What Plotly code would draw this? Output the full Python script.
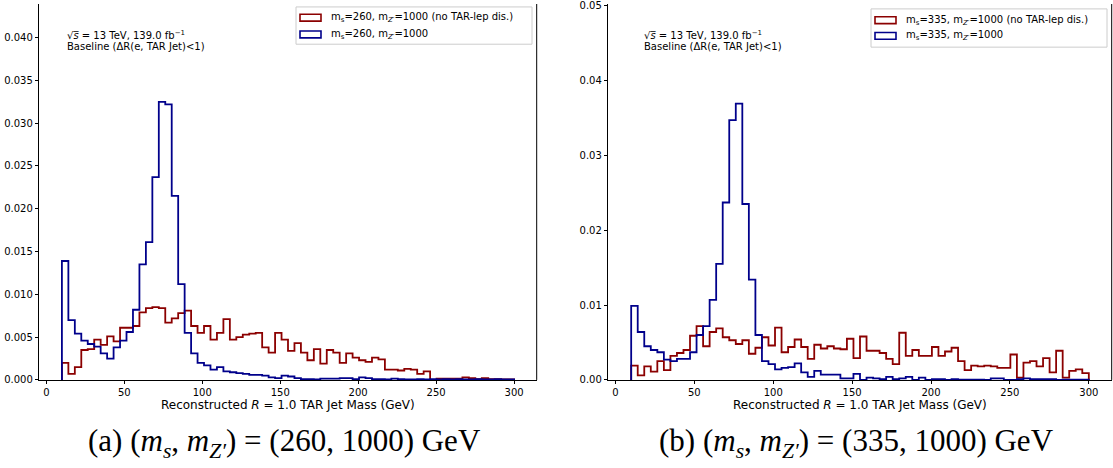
import numpy as np
import plotly.graph_objects as go

# ---------------- data ----------------
BIN_LOW, BIN_HIGH, N_BINS = 10.0, 300.0, 70
edges = np.linspace(BIN_LOW, BIN_HIGH, N_BINS + 1)

# panel (a): m_s = 260, m_Z' = 1000
a_red = [0.0020, 0.0007, 0.0015, 0.0035, 0.0036, 0.0047, 0.0041, 0.0051, 0.0045, 0.0061,
         0.0061, 0.0063, 0.0079, 0.0084, 0.0085, 0.0084, 0.0067, 0.0072, 0.0078, 0.0081,
         0.0063, 0.0055, 0.0063, 0.0047, 0.0055, 0.0071, 0.0047, 0.0050, 0.0053, 0.0054,
         0.0055, 0.0038, 0.0032, 0.0055, 0.0047, 0.0034, 0.0043, 0.0032, 0.0023, 0.0036,
         0.0019, 0.0035, 0.0032, 0.0020, 0.0031, 0.0026, 0.0023, 0.0021, 0.0026, 0.0024,
         0.0012, 0.0012, 0.0011, 0.0013, 0.0012, 0.0007, 0.0010, 0.0000, 0.00015, 0.00015,
         0.00015, 0.00015, 0.0003, 0.0002, 0.0001, 0.0002, 0.0001, 0.0001, 0.00005, 0.00005]
a_blue = [0.0139, 0.0070, 0.0054, 0.0046, 0.0042, 0.0039, 0.0031, 0.0025, 0.0038, 0.0046,
          0.0056, 0.0082, 0.0135, 0.0161, 0.0237, 0.0325, 0.0322, 0.0215, 0.0112, 0.0055,
          0.0031, 0.0020, 0.0017, 0.0012, 0.0015, 0.0010, 0.0009, 0.0008, 0.0007, 0.0006,
          0.0006, 0.0005, 0.0003, 0.0002, 0.0005, 0.0004, 0.0002, 0.0001, 0.0001, 0.00005,
          0.00015, 0.00015, 0.00015, 0.0002, 0.0002, 0.0001, 0.0003, 0.0002, 0.0001, 0.0001,
          0.00005, 0.00015, 0.0001, 0.00005, 0.00005, 0.0001, 0.00005, 0.0001, 0.00005, 0.0001,
          0.00005, 0.0001, 0.00005, 0.00005, 0.0001, 0.00005, 0.00005, 0.0001, 0.00005, 0.00005]

# panel (b): m_s = 335, m_Z' = 1000
b_red = [0.0019, 0.0006, 0.0018, 0.0011, 0.0025, 0.0013, 0.0032, 0.0036, 0.0040, 0.0059,
         0.0072, 0.0045, 0.0064, 0.0069, 0.0057, 0.0053, 0.0048, 0.0053, 0.0035, 0.0043,
         0.0057, 0.0046, 0.0070, 0.0037, 0.0044, 0.0054, 0.0044, 0.0028, 0.0047, 0.0042,
         0.0045, 0.0042, 0.0041, 0.0055, 0.0029, 0.0058, 0.0039, 0.0039, 0.0036, 0.0028,
         0.0021, 0.0063, 0.0032, 0.0040, 0.0032, 0.0032, 0.0044, 0.0032, 0.0038, 0.0043,
         0.0025, 0.0013, 0.0019, 0.0018, 0.0019, 0.0018, 0.0016, 0.0016, 0.0034, 0.0003,
         0.0023, 0.0025, 0.0018, 0.0029, 0.0010, 0.0039, 0.0003, 0.0012, 0.0014, 0.0009]
b_blue = [0.0099, 0.0064, 0.0045, 0.0040, 0.0037, 0.0027, 0.0025, 0.0028, 0.0028, 0.0037,
          0.0060, 0.0072, 0.0107, 0.0155, 0.0237, 0.0347, 0.0369, 0.0235, 0.0134, 0.0060,
          0.0025, 0.0021, 0.0014, 0.0016, 0.0017, 0.0022, 0.0010, 0.0004, 0.0012, 0.0007,
          0.0007, 0.0007, 0.0002, 0.0002, 0.0008, 0.0000, 0.0003, 0.0002, 0.0001, 0.0004,
          0.0001, 0.0002, 0.0004, 0.0000, 0.0003, 0.0000, 0.0001, 0.0001, 0.0000, 0.0001,
          0.00005, 0.00005, 0.00005, 0.00005, 0.0000, 0.0002, 0.0002, 0.0000, 0.0000, 0.0001,
          0.0002, 0.0001, 0.0001, 0.0001, 0.0001, 0.0000, 0.00005, 0.00005, 0.00005, 0.00005]

x_ticks = [0, 50, 100, 150, 200, 250, 300]
a_yticks = [0.000, 0.005, 0.010, 0.015, 0.020, 0.025, 0.030, 0.035, 0.040]
b_yticks = [0.00, 0.01, 0.02, 0.03, 0.04, 0.05]

a_labels = ["m<sub>s</sub>=260, m<sub><i>Z′</i></sub>=1000 (no TAR-lep dis.)",
            "m<sub>s</sub>=260, m<sub><i>Z′</i></sub>=1000"]
b_labels = ["m<sub>s</sub>=335, m<sub><i>Z′</i></sub>=1000 (no TAR-lep dis.)",
            "m<sub>s</sub>=335, m<sub><i>Z′</i></sub>=1000"]
captions = ["(a) (<i>m<sub>s</sub></i>, <i>m<sub>Z′</sub></i>) = (260, 1000) GeV",
            "(b) (<i>m<sub>s</sub></i>, <i>m<sub>Z′</sub></i>) = (335, 1000) GeV"]
x_title = "Reconstructed <i>R</i> = 1.0 TAR Jet Mass (GeV)"
info1 = "√<i>s</i>\u0305 = 13 TeV, 139.0 fb<sup>−1</sup>"
info2 = "Baseline (ΔR(e, TAR Jet)<1)"

RED = "#8b0000"
BLUE = "#00008b"

# ---------------- layout geometry ----------------
W, H = 1113, 468
def px(x):
    return x / W
def py(y):
    return 1 - y / H

AX_BOTTOM = 383.3
panels = [
    dict(xl=39.3, xr=536.7, ymax=0.04393, yt=a_yticks, yfmt=".3f", red=a_red, blue=a_blue,
         labels=a_labels, cap=captions[0], capx=284,
         leg=dict(x0=296, x1=532, y0=3, y1=41, rows=(14, 31), px0=300, px1=321, tx=329)),
    dict(xl=608.3, xr=1111.7, ymax=0.05022, yt=b_yticks, yfmt=".2f", red=b_red, blue=b_blue,
         labels=b_labels, cap=captions[1], capx=856,
         leg=dict(x0=871, x1=1107, y0=5, y1=44, rows=(16.5, 32.5), px0=875, px1=896, tx=904)),
]

def step_xy(vals):
    xs = [edges[0]] + list(edges)
    ys = [0.0] + list(vals) + [0.0]
    return xs, ys

fig = go.Figure()
shapes = []
annotations = []
FONT = "DejaVu Sans"

for i, p in enumerate(panels):
    xa = "x" if i == 0 else "x2"
    ya = "y" if i == 0 else "y2"
    for vals, col in ((p["red"], RED), (p["blue"], BLUE)):
        xs, ys = step_xy(vals)
        fig.add_trace(go.Scatter(x=xs, y=ys, mode="lines", line=dict(color=col, width=1.8, shape="hv"),
                                 xaxis=xa, yaxis=ya, showlegend=False, hoverinfo="skip"))
    axis_common = dict(showline=True, linecolor="black", linewidth=1, ticks="outside", ticklen=3.5,
                       tickwidth=1, tickcolor="black", showgrid=False, zeroline=False,
                       ticklabeloverflow="allow",
                       tickfont=dict(family=FONT, size=10, color="black"))
    xkey = "xaxis" if i == 0 else "xaxis2"
    ykey = "yaxis" if i == 0 else "yaxis2"
    fig.update_layout(**{
        xkey: dict(domain=[px(p["xl"]), px(p["xr"])], range=[-4.5, 314.5], tickvals=x_ticks,
                   anchor=ya, **axis_common),
        ykey: dict(domain=[py(AX_BOTTOM), 1.0], range=[0, p["ymax"]], tickvals=p["yt"],
                   tickformat=p["yfmt"], anchor=xa, **axis_common),
    })
    # right spine
    shapes.append(dict(type="line", xref="paper", yref="paper", x0=px(p["xr"]), x1=px(p["xr"]),
                       y0=py(AX_BOTTOM), y1=1.0, line=dict(color="black", width=1)))
    # legend
    L = p["leg"]
    shapes.append(dict(type="rect", xref="paper", yref="paper", x0=px(L["x0"]), x1=px(L["x1"]),
                       y0=py(L["y1"]), y1=py(L["y0"]), line=dict(color="#cccccc", width=1),
                       fillcolor="rgba(255,255,255,0.8)", layer="above"))
    for row, col, lab in zip(L["rows"], (RED, BLUE), p["labels"]):
        shapes.append(dict(type="rect", xref="paper", yref="paper", x0=px(L["px0"]), x1=px(L["px1"]),
                           y0=py(row + 3.5), y1=py(row - 3.5), line=dict(color=col, width=1.6),
                           fillcolor="rgba(0,0,0,0)", layer="above"))
        annotations.append(dict(xref="paper", yref="paper", x=px(L["tx"]), y=py(row), text=lab,
                                showarrow=False, xanchor="left", yanchor="middle",
                                font=dict(family=FONT, size=10, color="black")))
    # info text
    tx = 64.5 if i == 0 else 641.7
    annotations.append(dict(xref="paper", yref="paper", x=px(tx), y=py(31.5), text=info1,
                            showarrow=False, xanchor="left", yanchor="middle",
                            font=dict(family=FONT, size=10, color="black")))
    annotations.append(dict(xref="paper", yref="paper", x=px(tx), y=py(43.5), text=info2,
                            showarrow=False, xanchor="left", yanchor="middle",
                            font=dict(family=FONT, size=10, color="black")))
    # x title
    cx = (p["xl"] + p["xr"]) / 2
    annotations.append(dict(xref="paper", yref="paper", x=px(cx), y=py(409), text=x_title,
                            showarrow=False, xanchor="center", yanchor="middle",
                            font=dict(family=FONT, size=12, color="black")))
    # caption
    annotations.append(dict(xref="paper", yref="paper", x=px(p["capx"]), y=py(448), text=p["cap"],
                            showarrow=False, xanchor="center", yanchor="middle",
                            font=dict(family="Liberation Serif", size=31, color="black")))

fig.update_layout(width=W, height=H, margin=dict(l=0, r=0, t=0, b=0),
                  paper_bgcolor="white", plot_bgcolor="white",
                  shapes=shapes, annotations=annotations, showlegend=False)

fig.write_html("out.html")
